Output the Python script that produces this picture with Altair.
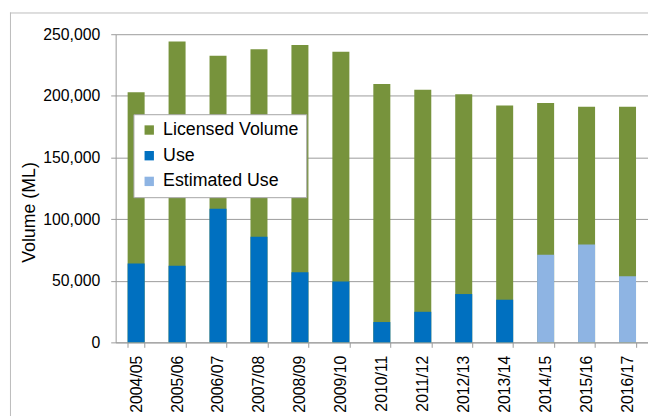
import altair as alt
import pandas as pd

years = ["2004/05", "2005/06", "2006/07", "2007/08", "2008/09", "2009/10", "2010/11",
         "2011/12", "2012/13", "2013/14", "2014/15", "2015/16", "2016/17"]
licensed = [203000, 244000, 232500, 237800, 241300, 235700, 209600,
            205000, 201400, 192200, 194100, 191200, 191200]
use = [64000, 62100, 108500, 85600, 56800, 49300, 16500,
       24800, 39200, 34600, 71000, 79500, 53600]
use_kind = ["Use"] * 10 + ["Estimated Use"] * 3

series_names = ["Licensed Volume", "Use", "Estimated Use"]
series_colors = ["#77933C", "#0070C0", "#8EB4E3"]

rows = []
for y, v in zip(years, licensed):
    rows.append({"year": y, "series": "Licensed Volume", "value": v})
for y, v, k in zip(years, use, use_kind):
    rows.append({"year": y, "series": k, "value": v})
df = pd.DataFrame(rows)

FONT = "Liberation Sans"
GRAY = "#9a9a9a"

bars = alt.Chart(df).mark_bar().encode(
    x=alt.X("year:N", sort=years, title=None,
            scale=alt.Scale(paddingInner=0.585, paddingOuter=0.2925),
            axis=alt.Axis(labelAngle=270, labelAlign="right", labelBaseline="middle",
                          labelPadding=8, tickBand="extent", labelOverlap=False, grid=False)),
    y=alt.Y("value:Q", stack=None, title="Volume (ML)",
            scale=alt.Scale(domain=[0, 250000], nice=False),
            axis=alt.Axis(values=[0, 50000, 100000, 150000, 200000, 250000], format=",.0f",
                          labelPadding=11, gridColor=GRAY, grid=True,
                          titleFontSize=18, titleAngle=270, titleAlign="center",
                          titleBaseline="middle", titleX=-87, titleY=180)),
    color=alt.Color("series:N",
                    scale=alt.Scale(domain=series_names, range=series_colors),
                    legend=alt.Legend(title=None, orient="none", legendX=18, legendY=81,
                                      symbolType="square", symbolSize=90,
                                      symbolStrokeWidth=0, labelFontSize=18, labelFont=FONT,
                                      labelColor="#000000", labelOffset=5, rowPadding=8,
                                      padding=7, strokeColor="#a6a6a6", fillColor="#ffffff")),
)

frame_df = pd.DataFrame({"k": [0]})
left_border = alt.Chart(frame_df).mark_rule(color="#bcbcbc", strokeWidth=1).encode(
    x=alt.value(-106.5), y=alt.value(-22), y2=alt.value(400))
top_border = alt.Chart(frame_df).mark_rule(color="#bcbcbc", strokeWidth=1).encode(
    x=alt.value(-107), x2=alt.value(545), y=alt.value(-21.5))

chart = alt.layer(bars, left_border, top_border).properties(
    width=539, height=312,
    autosize=alt.AutoSizeParams(type="none"),
    padding={"left": 109, "top": 24, "right": 0, "bottom": 72},
).configure_view(stroke=None).configure_axis(
    labelFont=FONT, labelFontSize=16, labelColor="#000000",
    titleFont=FONT, titleFontSize=18, titleFontWeight="normal", titleColor="#000000",
    tickSize=5, tickColor=GRAY, domainColor=GRAY,
)

chart.save("out.html", embed_options={"renderer": "svg", "actions": False})
